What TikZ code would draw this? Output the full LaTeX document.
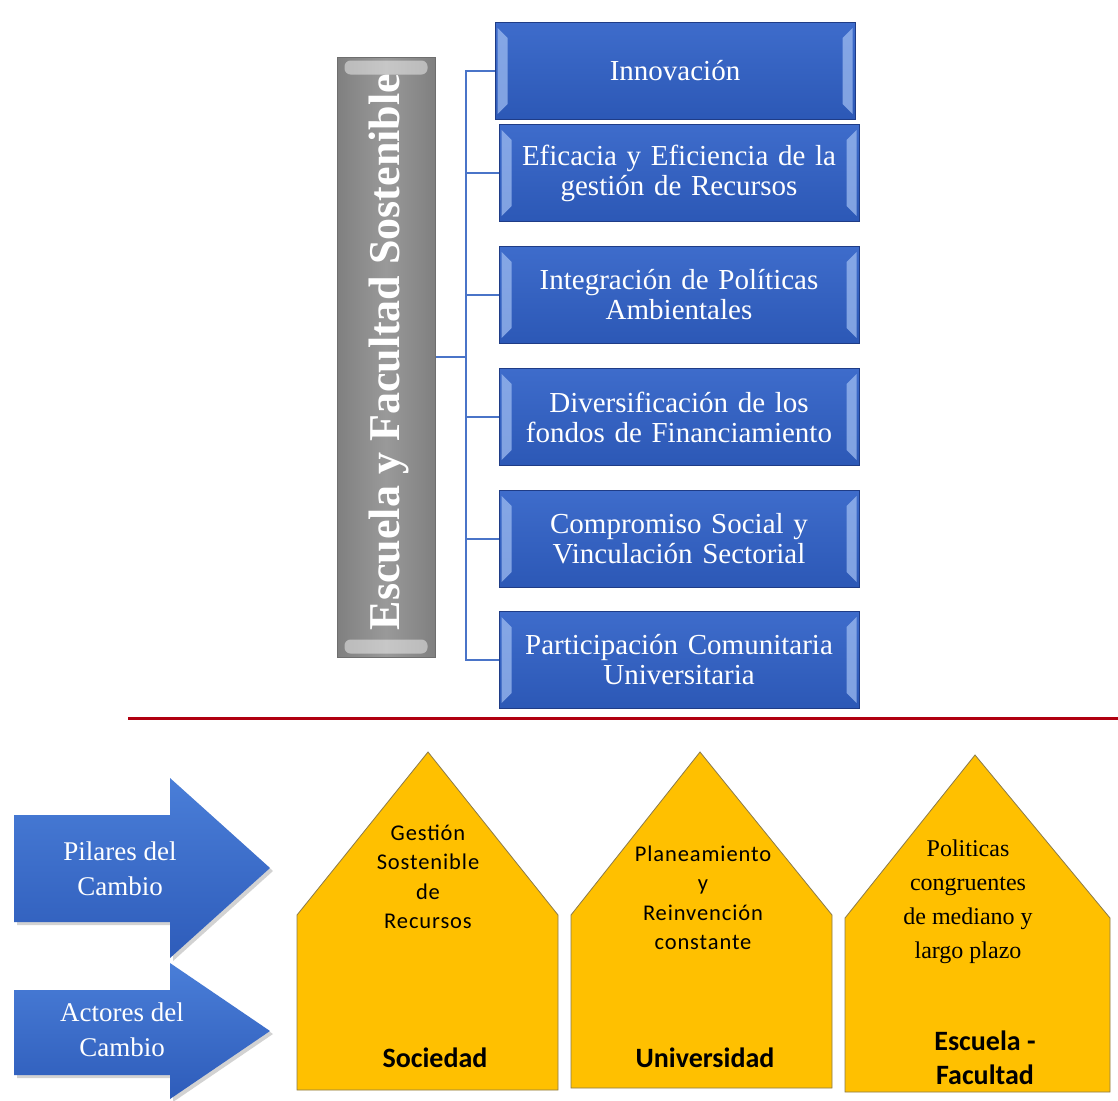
\documentclass[tikz,border=0pt]{standalone}
\usepackage{fontspec}
\setmainfont{Liberation Serif}
\newfontfamily\carl{Carlito}
\usetikzlibrary{shadows}
\definecolor{boxtop}{HTML}{3E6CCB}
\definecolor{boxbot}{HTML}{2C58B6}
\definecolor{boxborder}{HTML}{1F3C86}
\definecolor{bevel}{HTML}{9DBBF0}
\definecolor{connblue}{HTML}{4A74C8}
\definecolor{grayfill}{HTML}{8E8E8E}
\definecolor{grayedge}{HTML}{6E6E6E}
\definecolor{housefill}{HTML}{FFC000}
\definecolor{houseedge}{HTML}{8A7A4A}
\definecolor{sepred}{HTML}{B00010}
\definecolor{arrtop}{HTML}{4A7ED8}
\definecolor{arrbot}{HTML}{2E5CBA}
\begin{document}
\begin{tikzpicture}[x=1pt,y=-1pt,
  bbox/.style={draw=boxborder, line width=1pt, top color=boxtop, bottom color=boxbot,
    minimum width=360pt, minimum height=97pt, text width=352pt, align=center,
    text=white, font=\fontsize{29}{30}\selectfont, inner sep=0pt},
  bevelstrip/.style={fill=bevel, opacity=0.75},
  conn/.style={draw=connblue, line width=2.6pt},
  house/.style={fill=housefill, draw=houseedge, line width=0.8pt},
  htext/.style={align=center, text=black, font=\carl\fontsize{22.5}{29.5}\selectfont\addfontfeature{LetterSpace=4}},
  hserif/.style={align=center, text=black, font=\fontsize{24}{34}\selectfont},
  hbold/.style={align=center, text=black, font=\carl\bfseries\fontsize{28}{34}\selectfont},
  arrowshape/.style={top color=arrtop, bottom color=arrbot, draw=none, drop shadow={shadow xshift=3pt, shadow yshift=-3pt, opacity=0.35}},
  arrtext/.style={align=center, text=white, font=\fontsize{27}{35}\selectfont}
]
\useasboundingbox (0,0) rectangle (1118,1100);
\fill[white] (0,0) rectangle (1118,1100);

% gray vertical box
\node[draw=grayedge, line width=1pt, left color=grayfill!90!black, right color=grayfill!90!black, middle color=grayfill!90!white,
      minimum width=98pt, minimum height=600pt, inner sep=0pt] (gray) at (386,357) {};
\fill[white, opacity=0.45, rounded corners=6pt] ([xshift=8pt,yshift=-4pt]gray.north west) rectangle ([xshift=-8pt,yshift=-18pt]gray.north east);
\fill[white, opacity=0.45, rounded corners=6pt] ([xshift=8pt,yshift=4pt]gray.south west) rectangle ([xshift=-8pt,yshift=18pt]gray.south east);
\node[rotate=90, text=white, font=\bfseries\fontsize{44}{48}\selectfont] (graytext) at (389,352) {Escuela y Facultad Sostenible};

% blue boxes
\node[bbox] (b1) at (675,71) {Innovación};
\node[bbox] (b2) at (679,173) {Eficacia y Eficiencia de la\\gestión de Recursos};
\node[bbox] (b3) at (679,295) {Integración de Políticas\\Ambientales};
\node[bbox] (b4) at (679,417) {Diversificación de los\\fondos de Financiamiento};
\node[bbox] (b5) at (679,539) {Compromiso Social y\\Vinculación Sectorial};
\node[bbox] (b6) at (679,660) {Participación Comunitaria\\Universitaria};

\foreach \b in {b1,b2,b3,b4,b5,b6}{
  \fill[bevelstrip] ([xshift=3pt,yshift=-6pt]\b.north west) -- ([xshift=13pt,yshift=-16pt]\b.north west)
     -- ([xshift=13pt,yshift=16pt]\b.south west) -- ([xshift=3pt,yshift=6pt]\b.south west) -- cycle;
  \fill[bevelstrip] ([xshift=-3pt,yshift=-6pt]\b.north east) -- ([xshift=-13pt,yshift=-16pt]\b.north east)
     -- ([xshift=-13pt,yshift=16pt]\b.south east) -- ([xshift=-3pt,yshift=6pt]\b.south east) -- cycle;
}

% connectors
\coordinate (tk) at (466,357);
\draw[conn] (gray.east) -- (tk);
\foreach \b in {b1,b2,b3,b4,b5,b6}{
  \draw[conn] (tk) |- (\b.west);
}

% separator
\draw[sepred, line width=3pt] (128,718) -- (1118,718);

% arrows
\path[arrowshape] (14,815) -- (170,815) -- (170,778) -- (270,868) -- (170,958) -- (170,922) -- (14,922) -- cycle;
\node[arrtext] (pilares) at (120,869) {Pilares del\\Cambio};
\path[arrowshape] (14,990) -- (170,990) -- (170,963) -- (270,1031) -- (170,1099) -- (170,1075) -- (14,1075) -- cycle;
\node[arrtext] (actores) at (122,1030) {Actores del\\Cambio};

% houses
\path[house] (297,1090) -- (297,915) -- (428,752) -- (558,915) -- (558,1090) -- cycle;
\path[house] (571,1088) -- (571,915) -- (700,752) -- (832,915) -- (832,1088) -- cycle;
\path[house] (845,1092) -- (845,918) -- (975,755) -- (1110,918) -- (1110,1092) -- cycle;

\node[htext] (h1t) at (428,877) {Gestión\\Sostenible\\de\\Recursos};
\node[hbold] (h1b) at (435,1058) {Sociedad};
\node[htext] (h2t) at (703,898) {Planeamiento\\y\\Reinvención\\constante};
\node[hbold] (h2b) at (705,1058) {Universidad};
\node[hserif] (h3t) at (968,902) {Politicas\\congruentes\\de mediano y\\largo plazo};
\node[hbold] (h3b) at (985,1058) {Escuela -\\Facultad};
\end{tikzpicture}
\end{document}
